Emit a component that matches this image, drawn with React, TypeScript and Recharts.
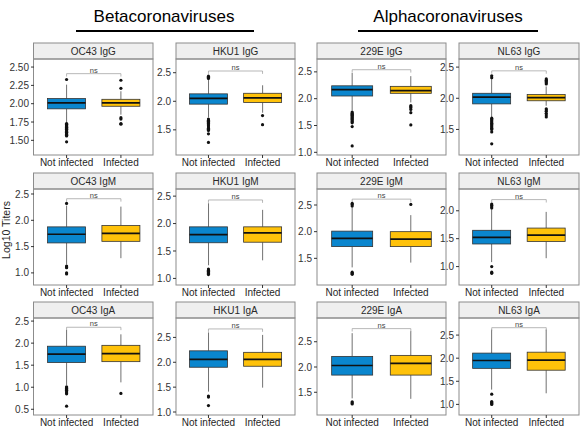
import { ComposedChart, Bar, Scatter, XAxis, YAxis, ReferenceLine } from 'recharts';

const groups = ['Not infected', 'Infected'];
const groupColors = ['#0A86CE', '#FFC20A'];

// panels in row-major order (IgG, IgM, IgA rows)
const panelTitles = [
  'OC43 IgG', 'HKU1 IgG', '229E IgG', 'NL63 IgG',
  'OC43 IgM', 'HKU1 IgM', '229E IgM', 'NL63 IgM',
  'OC43 IgA', 'HKU1 IgA', '229E IgA', 'NL63 IgA',
];

const tickValues = [
  [1.5, 1.75, 2, 2.25, 2.5], [1.5, 2, 2.5], [1, 1.5, 2, 2.5], [1.5, 2, 2.5],
  [1, 1.5, 2, 2.5], [1, 1.5, 2, 2.5], [1.5, 2, 2.5], [1, 1.5, 2],
  [0.5, 1, 1.5, 2, 2.5], [1, 1.5, 2, 2.5], [1.5, 2, 2.5], [1, 1.5, 2, 2.5],
];
const tickDigits = [2, 1, 1, 1, 1, 1, 1, 1, 1, 1, 1, 1];

const yRanges = [
  [1.3, 2.61], [1.06, 2.74], [0.95, 2.74], [1.09, 2.63],
  [0.77, 2.595], [0.88, 2.63], [1.0, 2.8], [0.67, 2.39],
  [0.37, 2.57], [0.94, 2.89], [1.05, 2.97], [0.77, 2.87],
];

// [lower whisker, q1, median, q3, upper whisker]
const notInfectedBox = [
  [1.75, 1.93, 2.01, 2.07, 2.26], [1.72, 1.95, 2.05, 2.13, 2.38], [1.78, 2.05, 2.17, 2.24, 2.48], [1.7, 1.91, 2.02, 2.08, 2.31],
  [1.16, 1.57, 1.735, 1.875, 2.28], [1.24, 1.65, 1.8, 1.94, 2.37], [1.33, 1.72, 1.875, 2.01, 2.45], [1.08, 1.405, 1.525, 1.65, 2.03],
  [1.05, 1.56, 1.75, 1.93, 2.3], [1.41, 1.9, 2.06, 2.23, 2.6], [1.38, 1.84, 2.03, 2.21, 2.67], [1.32, 1.78, 1.95, 2.11, 2.62],
];
const infectedBox = [
  [1.85, 1.965, 2.01, 2.06, 2.17], [1.8, 1.98, 2.06, 2.14, 2.28], [1.93, 2.1, 2.15, 2.23, 2.42], [1.88, 1.96, 2.01, 2.06, 2.19],
  [1.28, 1.6, 1.75, 1.9, 2.26], [1.33, 1.66, 1.83, 1.94, 2.25], [1.42, 1.72, 1.86, 2.0, 2.31], [1.15, 1.45, 1.565, 1.69, 1.98],
  [1.11, 1.58, 1.76, 1.95, 2.2], [1.49, 1.92, 2.06, 2.2, 2.55], [1.37, 1.84, 2.07, 2.23, 2.71], [1.24, 1.74, 1.96, 2.13, 2.62],
];

const notInfectedOutliers = [
  [2.33, 1.73, 1.72, 1.71, 1.7, 1.69, 1.68, 1.67, 1.66, 1.65, 1.64, 1.63, 1.62, 1.61, 1.6, 1.59, 1.58, 1.57, 1.56, 1.48],
  [2.44, 2.42, 2.4, 1.69, 1.67, 1.65, 1.63, 1.61, 1.59, 1.57, 1.55, 1.53, 1.51, 1.49, 1.43, 1.28],
  [1.75, 1.73, 1.71, 1.69, 1.67, 1.65, 1.63, 1.61, 1.59, 1.57, 1.55, 1.48, 1.12],
  [2.36, 2.33, 1.68, 1.66, 1.64, 1.62, 1.6, 1.58, 1.56, 1.54, 1.52, 1.5, 1.46, 1.27],
  [2.32, 1.13, 1.11, 1.1, 1.0, 0.98],
  [1.17, 1.15, 1.13, 1.11, 1.09, 1.07],
  [2.53, 2.51, 2.48, 1.24, 1.22, 1.2],
  [2.12, 2.1, 2.07, 2.05, 1.0, 0.9, 0.88],
  [1.01, 0.99, 0.97, 0.95, 0.93, 0.9, 0.87, 0.85, 0.57],
  [1.32, 1.3, 1.13],
  [1.31, 1.29, 1.27],
  [1.22, 1.06, 1.04, 1.02, 1.0],
];
const infectedOutliers = [
  [2.32, 2.21, 1.81, 1.79, 1.73, 1.72],
  [1.75, 1.59],
  [1.87, 1.85, 1.83, 1.8, 1.74, 1.51],
  [2.31, 2.29, 2.27, 2.25, 2.23, 1.83, 1.81, 1.79, 1.76, 1.73, 1.7],
  [], [], [2.51], [],
  [0.86], [], [], [],
];

const nsLevels = [2.41, 2.53, 2.54, 2.44, 2.41, 2.43, 2.61, 2.2, 2.36, 2.67, 2.76, 2.66];

const colLeft = [33.5, 176, 317, 459];
const colWidth = [119.5, 119, 129, 120];
const rowTop = [43, 173, 302];
const rowPlotH = [96, 96, 97];
const STRIP = 16;
const YW = 30;
const XH = 18;
const TOPPAD = 6;
const FONT = '"Liberation Sans", Arial, sans-serif';

function BoxShape(props: any) {
  const { x, y, width, height, payload } = props;
  const top = Math.min(y, y + height);
  const bottom = Math.max(y, y + height);
  const px = (v: number) => top + ((payload.hi - v) / (payload.hi - payload.lo)) * (bottom - top);
  const cx = x + width / 2;
  return (
    <g>
      <line x1={cx} x2={cx} y1={px(payload.hi)} y2={px(payload.q3)} stroke="#333" strokeWidth={0.7} />
      <line x1={cx} x2={cx} y1={px(payload.q1)} y2={px(payload.lo)} stroke="#333" strokeWidth={0.7} />
      <rect x={x} y={px(payload.q3)} width={width} height={px(payload.q1) - px(payload.q3)} fill={payload.fill} stroke="#333" strokeWidth={0.8} />
      <line x1={x} x2={x + width} y1={px(payload.med)} y2={px(payload.med)} stroke="#111" strokeWidth={1.7} />
    </g>
  );
}

const Dot = (p: any) => <circle cx={p.cx} cy={p.cy} r={1.6} fill="#111" />;

function Panel({ idx }: { idx: number }) {
  const col = idx % 4;
  const row = Math.floor(idx / 4);
  const w = colWidth[col];
  const plotH = rowPlotH[row];
  const pad = w / 22;
  const yr = yRanges[idx];
  const drop = (yr[1] - yr[0]) * 0.03;
  const ns = nsLevels[idx];
  const data = groups.map((g, i) => {
    const s = i === 0 ? notInfectedBox[idx] : infectedBox[idx];
    return { group: g, lo: s[0], q1: s[1], med: s[2], q3: s[3], hi: s[4], fill: groupColors[i] };
  });
  const outliers = [
    ...notInfectedOutliers[idx].map((v) => ({ group: groups[0], v })),
    ...infectedOutliers[idx].map((v) => ({ group: groups[1], v })),
  ];
  return (
    <div style={{ position: 'absolute', left: colLeft[col] - YW, top: rowTop[row] + STRIP - TOPPAD }}>
      <ComposedChart
        width={YW + w + 2}
        height={plotH + XH + TOPPAD}
        data={data}
        margin={{ top: TOPPAD, right: 2, bottom: 0, left: 0 }}
        barCategoryGap="15%"
        style={{ fontFamily: FONT }}
      >
        <XAxis
          dataKey="group"
          type="category"
          allowDuplicatedCategory={false}
          padding={{ left: pad, right: pad }}
          axisLine={false}
          tickLine={{ stroke: '#333' }}
          tickSize={3}
          tickMargin={1}
          interval={0}
          height={XH}
          tick={{ fontSize: 10, fill: '#1f1f1f' }}
        />
        <YAxis
          type="number"
          domain={yr}
          allowDataOverflow
          ticks={tickValues[idx]}
          interval={0}
          tickFormatter={(v: number) => v.toFixed(tickDigits[idx])}
          width={YW}
          axisLine={false}
          tickLine={{ stroke: '#333' }}
          tickSize={3}
          tickMargin={2}
          tick={{ fontSize: 10, fill: '#333' }}
        />
        <Bar dataKey={(d: any) => [d.lo, d.hi]} shape={BoxShape} isAnimationActive={false} />
        <Scatter data={outliers} dataKey="v" shape={Dot} isAnimationActive={false} />
        <ReferenceLine
          segment={[{ x: groups[0], y: ns }, { x: groups[1], y: ns }]}
          stroke="#9a9a9a"
          strokeWidth={0.7}
          label={{ value: 'ns', position: 'top', offset: 1, fontSize: 7.5, fill: '#444' }}
        />
        <ReferenceLine segment={[{ x: groups[0], y: ns }, { x: groups[0], y: ns - drop }]} stroke="#9a9a9a" strokeWidth={0.7} />
        <ReferenceLine segment={[{ x: groups[1], y: ns }, { x: groups[1], y: ns - drop }]} stroke="#9a9a9a" strokeWidth={0.7} />
      </ComposedChart>
    </div>
  );
}

export default function App() {
  return (
    <div style={{ position: 'absolute', left: 0, top: 0, width: 588, height: 437, background: '#fff', overflow: 'hidden' }}>
      <svg width={588} height={437} style={{ position: 'absolute', left: 0, top: 0 }} fontFamily={FONT}>
        <text x={164} y={22} fontSize={17} textAnchor="middle" fill="#000">Betacoronaviruses</text>
        <line x1={76} x2={254} y1={31} y2={31} stroke="#000" strokeWidth={2} />
        <text x={448} y={22} fontSize={17} textAnchor="middle" fill="#000">Alphacoronaviruses</text>
        <line x1={358} x2={538} y1={31} y2={31} stroke="#000" strokeWidth={2} />
        <text x={10} y={230} fontSize={10.5} textAnchor="middle" fill="#1f1f1f" transform="rotate(-90 10 230)">Log10 Titers</text>
        {panelTitles.map((t, idx) => {
          const col = idx % 4;
          const row = Math.floor(idx / 4);
          const x = colLeft[col];
          const w = colWidth[col];
          const y = rowTop[row];
          return (
            <g key={t}>
              <rect x={x} y={y} width={w} height={STRIP} fill="#efefef" stroke="#8c8c8c" strokeWidth={1} />
              <text x={x + w / 2} y={y + 12} fontSize={10} textAnchor="middle" fill="#2a2a2a">{t}</text>
              <rect x={x} y={y + STRIP} width={w} height={rowPlotH[row]} fill="none" stroke="#8c8c8c" strokeWidth={1} />
            </g>
          );
        })}
      </svg>
      {panelTitles.map((t, idx) => (
        <Panel key={t} idx={idx} />
      ))}
    </div>
  );
}
